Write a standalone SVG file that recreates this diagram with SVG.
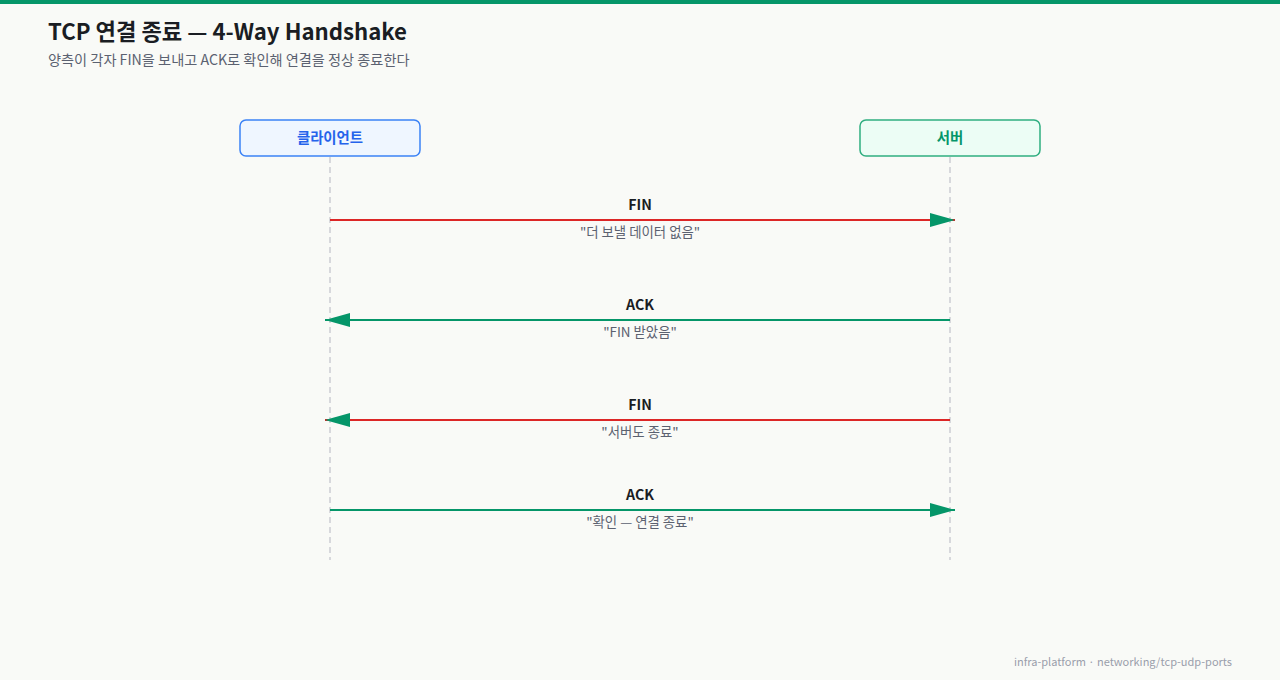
<svg xmlns="http://www.w3.org/2000/svg" width="1280" height="680" viewBox="0 0 1280 680">
<defs>
<style>
text{font-family:"Noto Sans CJK KR","Noto Sans",sans-serif}
.title{font-size:22.2px;font-weight:700;fill:#1a1d23}
.sub{font-size:14.2px;fill:#5b6170}
.actor{stroke-width:1.5}
.aname{font-size:14.4px;font-weight:700;text-anchor:middle}
.life{stroke:#cbcdd3;stroke-width:1.5;stroke-dasharray:6 4;fill:none}
.msg{stroke-width:2;fill:none}
.red{stroke:#dc2626}
.green{stroke:#059669}
.lbl{font-size:14.2px;font-weight:700;fill:#1a1d23;text-anchor:middle}
.note{font-size:13.4px;fill:#5b6170;text-anchor:middle}
.foot{font-size:11px;fill:#9a9eab;text-anchor:end}
</style>
<marker id="ah" viewBox="0 0 25 14" refX="25" refY="7" markerWidth="25" markerHeight="14" markerUnits="userSpaceOnUse" orient="auto">
<path d="M0,0 L25,7 L0,14 Z" fill="#059669"/>
</marker>
</defs>
<rect width="1280" height="680" fill="#f9faf7"/>
<rect width="1280" height="4" fill="#059669"/>
<text class="title" x="48" y="40">TCP 연결 종료 — 4-Way Handshake</text>
<text class="sub" x="48" y="65">양측이 각자 FIN을 보내고 ACK로 확인해 연결을 정상 종료한다</text>
<g id="lifelines">
<line class="life" x1="330" y1="157" x2="330" y2="560"/>
<line class="life" x1="950" y1="157" x2="950" y2="560"/>
</g>
<g id="client">
<rect class="actor" x="240" y="120" width="180" height="36" rx="6" fill="#eff6ff" stroke="#3b82f6"/>
<text class="aname" x="330" y="143" fill="#2563eb">클라이언트</text>
</g>
<g id="server">
<rect class="actor" x="860" y="120" width="180" height="36" rx="6" fill="#ecfdf5" stroke="#2fae80"/>
<text class="aname" x="950" y="143" fill="#059669">서버</text>
</g>
<g id="connectors">
<line class="msg red" x1="330" y1="220" x2="955" y2="220" marker-end="url(#ah)"/>
<text class="lbl" x="640" y="210">FIN</text>
<text class="note" x="640" y="237">"더 보낼 데이터 없음"</text>
<line class="msg green" x1="950" y1="320" x2="325" y2="320" marker-end="url(#ah)"/>
<text class="lbl" x="640" y="310">ACK</text>
<text class="note" x="640" y="337">"FIN 받았음"</text>
<line class="msg red" x1="950" y1="420" x2="325" y2="420" marker-end="url(#ah)"/>
<text class="lbl" x="640" y="410">FIN</text>
<text class="note" x="640" y="437">"서버도 종료"</text>
<line class="msg green" x1="330" y1="510" x2="955" y2="510" marker-end="url(#ah)"/>
<text class="lbl" x="640" y="500">ACK</text>
<text class="note" x="640" y="527">"확인 — 연결 종료"</text>
</g>
<text class="foot" x="1232" y="666">infra-platform · networking/tcp-udp-ports</text>
</svg>
